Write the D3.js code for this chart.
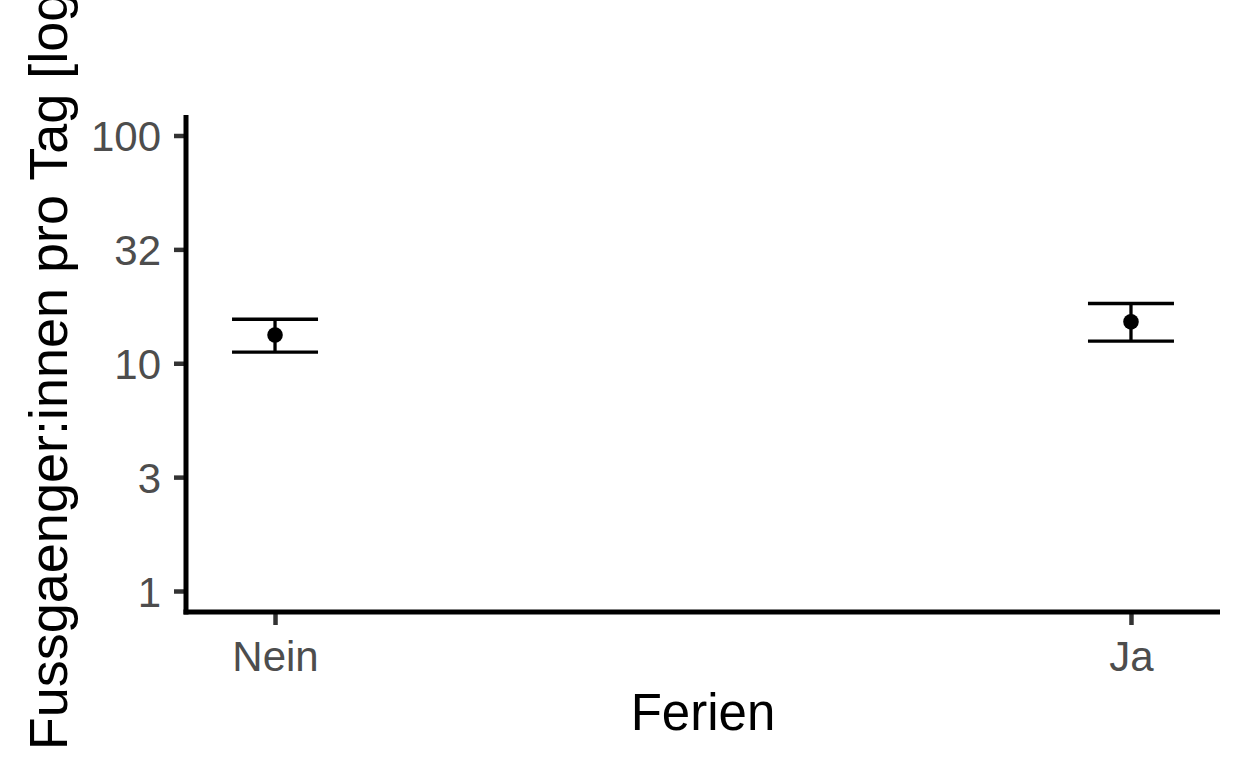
<!DOCTYPE html>
<html>
<head>
<meta charset="utf-8">
<script src="https://cdn.jsdelivr.net/npm/d3@7"></script>
<style>
html,body{margin:0;padding:0;background:#fff;}
svg{display:block;font-family:"Liberation Sans",Arial,sans-serif;}
</style>
</head>
<body>
<svg id="chart" width="1248" height="768"></svg>
<script>
const categories = ["Nein", "Ja"];
const means = [13.3, 15.2];
const lowers = [11.2, 12.5];
const uppers = [15.6, 18.3];
const yTickValues = [1, 3.1623, 10, 31.623, 100];
const yTickLabels = ["1", "3", "10", "32", "100"];
const xTitle = "Ferien";
const yTitle = "Fussgaenger:innen pro Tag [log]";

const svg = d3.select("#chart");
const panel = {left: 186, right: 1220, top: 115, bottom: 612};

const x = d3.scalePoint().domain(categories).range([panel.left, panel.right]).padding(0.104);
const y = d3.scaleLog().domain([1, 100]).range([591, 135.5]);

// axes
const yAxis = d3.axisLeft(y).tickValues(yTickValues).tickFormat((d, i) => yTickLabels[i]).tickSize(12).tickPadding(13);
const gy = svg.append("g").attr("transform", `translate(${panel.left},0)`).call(yAxis);
gy.select(".domain").remove();
gy.selectAll(".tick line").attr("stroke", "#333333").attr("stroke-width", 4.5);
gy.selectAll(".tick text").attr("fill", "#4D4D4D").style("font-size", "42px").attr("dy", "0.36em");

const xAxis = d3.axisBottom(x).tickSize(13).tickPadding(16);
const gx = svg.append("g").attr("transform", `translate(0,${panel.bottom})`).call(xAxis);
gx.select(".domain").remove();
gx.selectAll(".tick line").attr("stroke", "#333333").attr("stroke-width", 4.5);
gx.selectAll(".tick text").attr("fill", "#4D4D4D").style("font-size", "42px");

// axis lines
svg.append("line").attr("x1", panel.left).attr("x2", panel.left).attr("y1", panel.top).attr("y2", panel.bottom + 2.5)
  .attr("stroke", "#000").attr("stroke-width", 5);
svg.append("line").attr("x1", panel.left - 2.5).attr("x2", panel.right).attr("y1", panel.bottom).attr("y2", panel.bottom)
  .attr("stroke", "#000").attr("stroke-width", 5);

// error bars
const data = categories.map((c, i) => ({c, m: means[i], lo: lowers[i], hi: uppers[i]}));
const capHalf = 43;
const g = svg.append("g");
data.forEach(d => {
  g.append("line").attr("x1", x(d.c)).attr("x2", x(d.c)).attr("y1", y(d.lo)).attr("y2", y(d.hi))
    .attr("stroke", "#000").attr("stroke-width", 3.3);
  g.append("line").attr("x1", x(d.c) - capHalf).attr("x2", x(d.c) + capHalf).attr("y1", y(d.lo)).attr("y2", y(d.lo))
    .attr("stroke", "#000").attr("stroke-width", 3.3);
  g.append("line").attr("x1", x(d.c) - capHalf).attr("x2", x(d.c) + capHalf).attr("y1", y(d.hi)).attr("y2", y(d.hi))
    .attr("stroke", "#000").attr("stroke-width", 3.3);
  g.append("circle").attr("cx", x(d.c)).attr("cy", y(d.m)).attr("r", 7.8).attr("fill", "#000");
});

// titles
svg.append("text").attr("x", (panel.left + panel.right) / 2).attr("y", 730)
  .attr("text-anchor", "middle").style("font-size", "51px").attr("fill", "#000").text(xTitle);
svg.append("text").attr("transform", `translate(67,${(panel.top + panel.bottom) / 2}) rotate(-90)`)
  .attr("text-anchor", "middle").style("font-size", "54px").attr("fill", "#000").text(yTitle);
</script>
</body>
</html>
